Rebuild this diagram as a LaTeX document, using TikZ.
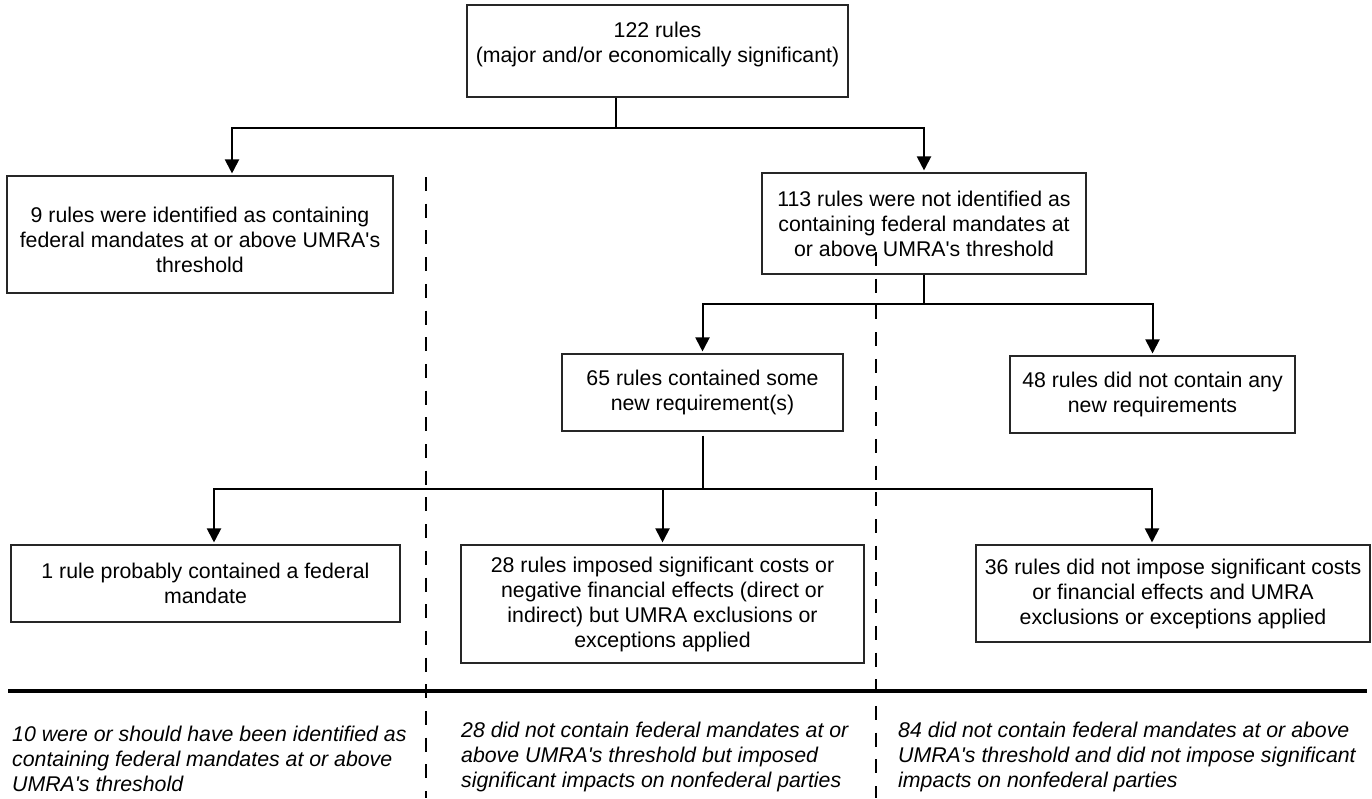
\documentclass[tikz,border=0pt]{standalone}
\usepackage{fontspec}
\setmainfont{Liberation Sans}[Ligatures=TeXOff]
\usetikzlibrary{arrows.meta}
\begin{document}
\begin{tikzpicture}[x=1pt,y=-1pt,
  box/.style={draw=black!85, line width=1.1pt, align=center, inner sep=0pt,
              font=\fontsize{21.3}{25}\selectfont},
  txt/.style={align=center, inner sep=0pt, font=\fontsize{21.3}{25}\selectfont},
  note/.style={align=left, anchor=west, inner sep=0pt,
               font=\fontsize{21.3}{25}\selectfont\itshape},
  conn/.style={line width=2pt},
  arr/.style={conn, -{Triangle[width=14pt,length=14pt]}, shorten >=2pt},
  sep/.style={line width=2.8pt, dash pattern=on 14pt off 12.7pt},
  base/.style={line width=4.5pt}]
\useasboundingbox (0,0) rectangle (1372,798);

% boxes
\node[box, minimum width=381pt, minimum height=92pt] (top) at (657.5,51) {};
\node[txt] (toptext) at (657.5,44.5) {122 rules\\(major and/or economically significant)};

\node[box, minimum width=386pt, minimum height=117pt] (nine) at (200,234.5) {};
\node[txt] (ninetext) at (200,240) {9 rules were identified as containing\\federal mandates at or above UMRA's\\threshold};

\node[box, minimum width=324pt, minimum height=101pt] (n113) at (924,223.5)
  {113 rules were not identified as\\containing federal mandates at\\or above UMRA's threshold};

\node[box, minimum width=281pt, minimum height=77pt] (n65) at (702.5,392.5)
  {65 rules contained some\\new requirement(s)};

\node[box, minimum width=285pt, minimum height=77pt] (n48) at (1152.5,394.5)
  {48 rules did not contain any\\new requirements};

\node[box, minimum width=389pt, minimum height=77pt] (n1) at (205.5,583.5)
  {1 rule probably contained a federal\\mandate};

\node[box, minimum width=403pt, minimum height=118pt] (n28) at (662.5,604)
  {28 rules imposed significant costs or\\negative financial effects (direct or\\indirect) but UMRA exclusions or\\exceptions applied};

\node[box, minimum width=394pt, minimum height=97pt] (n36) at (1173,593.5)
  {36 rules did not impose significant costs\\or financial effects and UMRA\\exclusions or exceptions applied};

% connectors
\coordinate (j1) at (616,128);
\draw[conn] (top.south -| j1) -- (j1);
\draw[arr] (j1) -| ([xshift=32pt]nine.north);
\draw[arr] (j1) -| (n113.north);

\coordinate (j2) at (924,304);
\draw[conn] (n113.south) -- (j2);
\draw[arr] (j2) -| (n65.north);
\draw[arr] (j2) -| (n48.north);

\coordinate (j3) at (703,489);
\draw[conn] ([yshift=-4pt]n65.south -| j3) -- (j3);
\draw[arr] (j3) -| ([xshift=8.5pt]n1.north);
\draw[arr] (j3) -| (n28.north);
\draw[arr] (j3) -| ([xshift=-21pt]n36.north);

% separators
\coordinate (d1a) at (426,177);
\coordinate (d1b) at (426,798);
\coordinate (d2a) at (876,252);
\coordinate (d2b) at (876,798);
\draw[sep] (d1a) -- (d1b);
\draw[sep] (d2a) -- (d2b);
\coordinate (b1) at (8,691);
\coordinate (b2) at (1367,691);
\draw[base] (b1) -- (b2);

% bottom notes
\node[note] (nl) at (12,758.5) {10 were or should have been identified as\\containing federal mandates at or above\\UMRA's threshold};
\node[note] (nm) at (461,756.5) {28 did not contain federal mandates at or\\above UMRA's threshold but imposed\\significant impacts on nonfederal parties};
\node[note] (nr) at (898,756.5) {84 did not contain federal mandates at or above\\UMRA's threshold and did not impose significant\\impacts on nonfederal parties};
\end{tikzpicture}
\end{document}
